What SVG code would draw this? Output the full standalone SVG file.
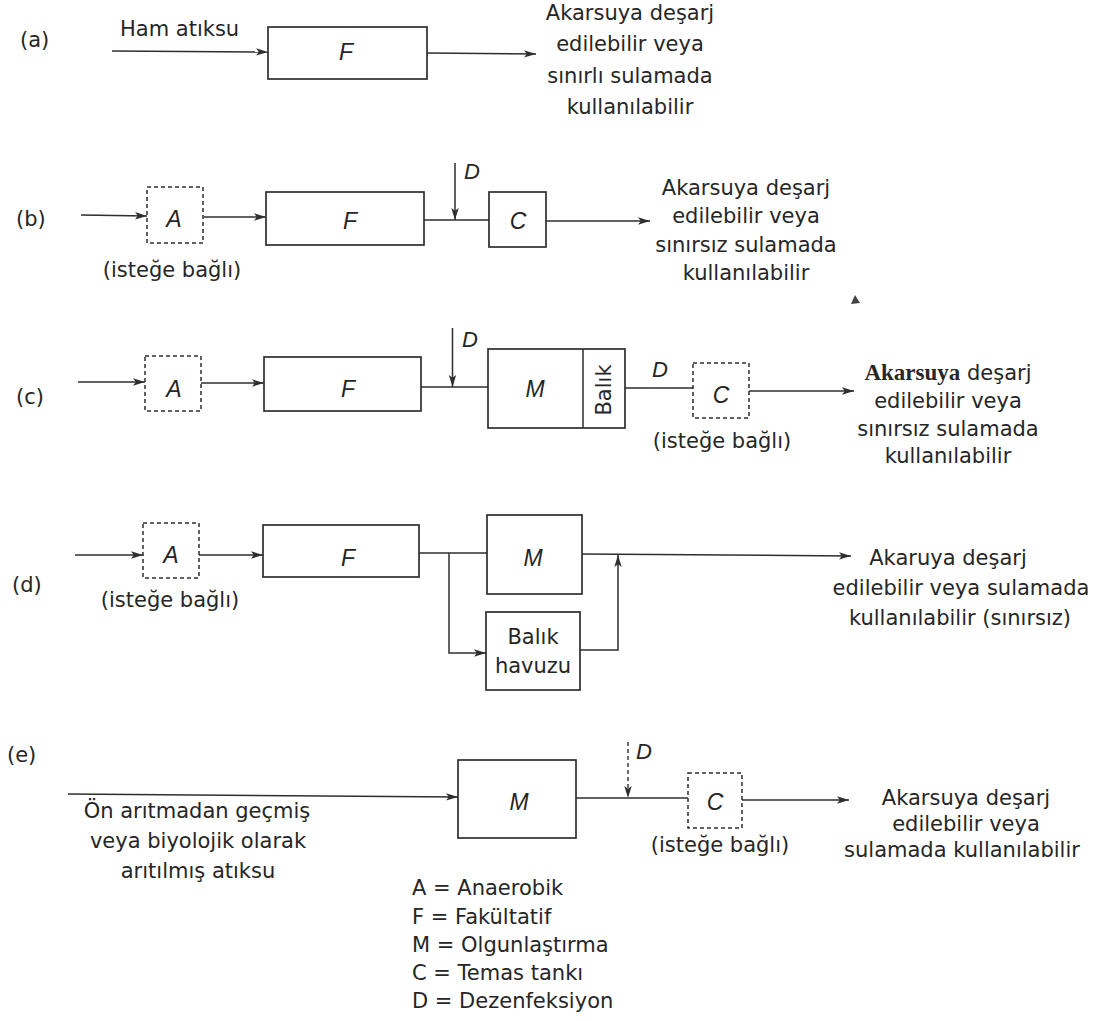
<svg xmlns="http://www.w3.org/2000/svg" width="1106" height="1021" viewBox="0 0 1106 1021">
<style>
  .bg{fill:#ffffff}
  .box{fill:none;stroke:#2e2e2e;stroke-width:1.7}
  .dbox{fill:none;stroke:#2e2e2e;stroke-width:1.5;stroke-dasharray:4 3}
  .ln{fill:none;stroke:#2e2e2e;stroke-width:1.5}
  .arr{fill:none;stroke:#2e2e2e;stroke-width:1.5;marker-end:url(#ah)}
  .darr{fill:none;stroke:#2e2e2e;stroke-width:1.4;stroke-dasharray:4 3;marker-end:url(#ah)}
  text{font-family:"DejaVu Sans","Liberation Sans",sans-serif;font-size:21px;fill:#262626}
  .c{text-anchor:middle}
  .L{font-family:"Liberation Sans",Arial,sans-serif;font-style:italic;font-size:23px;text-anchor:middle}
  .Ls{font-family:"Liberation Sans",Arial,sans-serif;font-style:italic;font-size:22px}
  .serif{font-family:"Liberation Serif","Times New Roman",serif;font-weight:bold;font-size:23px}
</style>
<defs>
  <marker id="ah" markerUnits="userSpaceOnUse" markerWidth="13" markerHeight="9" refX="12" refY="4.5" orient="auto">
    <path d="M0,0.8 L12,4.5 L0,8.2 L2.8,4.5 z" fill="#2e2e2e"/>
  </marker>
</defs>
<rect class="bg" x="0" y="0" width="1106" height="1021"/>

<!-- Row labels -->
<g id="row-labels">
  <text x="20" y="47">(a)</text>
  <text x="16" y="226">(b)</text>
  <text x="16" y="404">(c)</text>
  <text x="12" y="592">(d)</text>
  <text x="7" y="762">(e)</text>
</g>

<!-- Row (a) -->
<g id="a-F"><rect class="box" x="268" y="27" width="159" height="52"/><text class="L" x="346" y="60">F</text></g>
<text x="120" y="36">Ham atıksu</text>
<g id="a-out" class="c">
  <text x="630" y="20">Akarsuya deşarj</text>
  <text x="630" y="51">edilebilir veya</text>
  <text x="630" y="83">sınırlı sulamada</text>
  <text x="630" y="114">kullanılabilir</text>
</g>

<!-- Row (b) -->
<g id="b-A"><rect class="dbox" x="147" y="187" width="56" height="56"/><text class="L" x="174" y="227">A</text></g>
<g id="b-F"><rect class="box" x="266" y="192" width="158" height="53"/><text class="L" x="350" y="229">F</text></g>
<g id="b-C"><rect class="box" x="489" y="192" width="57" height="55"/><text class="L" x="518" y="229">C</text></g>
<text class="c" x="172" y="277">(isteğe bağlı)</text>
<text class="Ls" x="464" y="179">D</text>
<g id="b-out" class="c">
  <text x="746" y="195">Akarsuya deşarj</text>
  <text x="746" y="223">edilebilir veya</text>
  <text x="746" y="252">sınırsız sulamada</text>
  <text x="746" y="280">kullanılabilir</text>
</g>
<path d="M851,304 L855,295 L860,303 z" fill="#444"/>

<!-- Row (c) -->
<g id="c-A"><rect class="dbox" x="145" y="356" width="56" height="55"/><text class="L" x="174" y="397">A</text></g>
<g id="c-F"><rect class="box" x="264" y="357" width="157" height="54"/><text class="L" x="348" y="397">F</text></g>
<g id="c-M"><rect class="box" x="488" y="349" width="137" height="79"/><line class="ln" x1="583" y1="349" x2="583" y2="428"/><text class="L" x="535" y="397">M</text><text class="c" transform="translate(611,390) rotate(-90)">Balık</text></g>
<g id="c-C"><rect class="dbox" x="693" y="363" width="56" height="55"/><text class="L" x="721" y="403">C</text></g>
<text class="Ls" x="462" y="347">D</text>
<text class="Ls" x="652" y="377">D</text>
<text class="c" x="722" y="448">(isteğe bağlı)</text>
<g id="c-out" class="c">
  <text x="948" y="380"><tspan class="serif">Akarsuya</tspan> deşarj</text>
  <text x="948" y="408">edilebilir veya</text>
  <text x="948" y="436">sınırsız sulamada</text>
  <text x="948" y="463">kullanılabilir</text>
</g>

<!-- Row (d) -->
<g id="d-A"><rect class="dbox" x="143" y="523" width="56" height="55"/><text class="L" x="171" y="563">A</text></g>
<g id="d-F"><rect class="box" x="263" y="525" width="156" height="52"/><text class="L" x="348" y="566">F</text></g>
<g id="d-M"><rect class="box" x="487" y="515" width="95" height="79"/><text class="L" x="533" y="566">M</text></g>
<g id="d-B"><rect class="box" x="486" y="612" width="94" height="78"/><text class="c" x="533" y="644">Balık</text><text class="c" x="533" y="673">havuzu</text></g>
<text class="c" x="170" y="607">(isteğe bağlı)</text>
<g id="d-out" class="c">
  <text x="948" y="565">Akaruya deşarj</text>
  <text x="961" y="595">edilebilir veya sulamada</text>
  <text x="960" y="625">kullanılabilir (sınırsız)</text>
</g>

<!-- Row (e) -->
<g id="e-M"><rect class="box" x="458" y="760" width="118" height="78"/><text class="L" x="519" y="810">M</text></g>
<g id="e-C"><rect class="dbox" x="688" y="773" width="54" height="55"/><text class="L" x="715" y="810">C</text></g>
<text class="Ls" x="636" y="759">D</text>
<text class="c" x="720" y="852">(isteğe bağlı)</text>
<g id="e-in" class="c">
  <text x="197" y="818">Ön arıtmadan geçmiş</text>
  <text x="198" y="848">veya biyolojik olarak</text>
  <text x="198" y="878">arıtılmış atıksu</text>
</g>
<g id="e-out" class="c">
  <text x="966" y="805">Akarsuya deşarj</text>
  <text x="966" y="831">edilebilir veya</text>
  <text x="962" y="857">sulamada kullanılabilir</text>
</g>

<!-- Legend -->
<g id="legend">
  <text x="412" y="895">A = Anaerobik</text>
  <text x="412" y="924">F = Fakültatif</text>
  <text x="412" y="952">M = Olgunlaştırma</text>
  <text x="412" y="980">C = Temas tankı</text>
  <text x="412" y="1008">D = Dezenfeksiyon</text>
</g>

<!-- Connectors -->
<g id="connectors">
  <!-- a -->
  <path class="arr" d="M112,51 L268,52"/>
  <path class="arr" d="M427,53 L536,54"/>
  <!-- b -->
  <path class="arr" d="M81,215 L147,216"/>
  <path class="arr" d="M204,217 L266,217"/>
  <path class="ln" d="M424,220 L489,220"/>
  <path class="arr" d="M455,163 L455,220"/>
  <path class="arr" d="M546,221 L650,221"/>
  <!-- c -->
  <path class="arr" d="M78,382 L145,382"/>
  <path class="arr" d="M201,383 L264,383"/>
  <path class="ln" d="M421,387 L488,387"/>
  <path class="arr" d="M452.5,328 L452.5,387"/>
  <path class="ln" d="M625,388 L693,388"/>
  <path class="arr" d="M749,391 L854,391"/>
  <!-- d -->
  <path class="arr" d="M75,555 L143,555"/>
  <path class="arr" d="M199,555 L263,555"/>
  <path class="ln" d="M419,553 L487,553"/>
  <path class="arr" d="M449,553 L449,653 L486,653"/>
  <path class="arr" d="M582,554 L851,556"/>
  <path class="arr" d="M580,650 L618,650 L618,555"/>
  <!-- e -->
  <path class="arr" d="M68,794 L458,797"/>
  <path class="ln" d="M576,798 L688,798"/>
  <path class="darr" d="M628,742 L628,798"/>
  <path class="arr" d="M742,800 L849,800"/>
</g>
</svg>
